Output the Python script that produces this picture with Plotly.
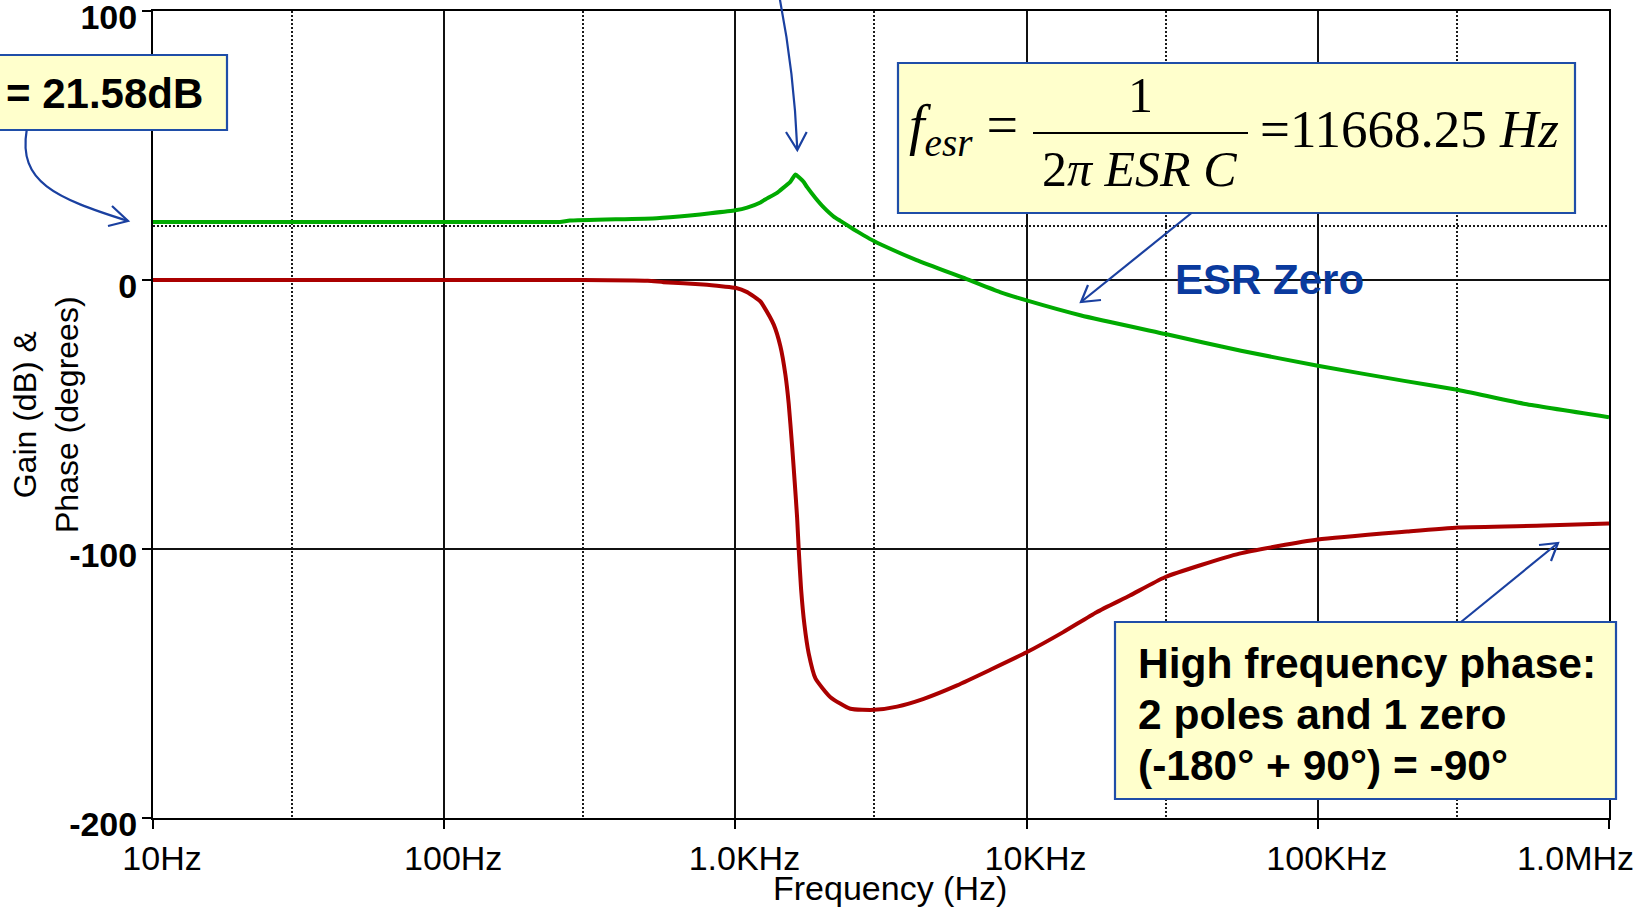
import plotly.graph_objects as go

# ---------------- data ----------------
gain_freq = [10, 30, 100, 250, 270, 537, 698, 821, 1000, 1097,
             1219, 1251, 1394, 1427, 1541, 1607, 1660, 1714, 1763, 1883,
             2010, 2181, 2294, 2551, 2758, 3000, 3147, 4189, 6200, 8100,
             10000, 15400, 30000, 54500, 100000, 198000, 301000, 516000, 1000000]
gain_db = [21.58, 21.58, 21.6, 21.6, 22.1, 23.0, 24.0, 24.8, 25.9, 26.9,
           28.8, 29.6, 32.5, 33.4, 36.4, 39.2, 38.0, 36.5, 34.5, 30.5,
           27.0, 23.5, 22.0, 18.8, 16.6, 14.4, 13.3, 7.4, 0.4, -4.5,
           -7.6, -13.2, -20.1, -26.3, -31.9, -37.5, -40.8, -46.1, -51.0]

phase_freq = [10, 100, 300, 500, 566, 776, 909, 1000, 1097, 1219,
              1251, 1354, 1427, 1485, 1524, 1566, 1598, 1629, 1650, 1681,
              1726, 1785, 1883, 2120, 2483, 3000, 3592, 4432, 5772, 7510,
              10000, 13360, 17390, 22630, 29850, 53800, 100000, 203000, 304000, 595000,
              1000000]
phase_deg = [0, 0, 0, -0.3, -0.8, -1.7, -2.4, -2.9, -4.5, -8.0,
             -9.8, -16.6, -24.6, -35.2, -45.9, -61.8, -75.0, -88.3, -100.2, -114.9,
             -128.2, -138.8, -148.1, -155.1, -159.4, -159.8, -158.6, -155.7, -150.7, -144.9,
             -138.4, -130.9, -123.5, -117.3, -110.5, -101.7, -96.5, -93.5, -92.0, -91.3,
             -90.5]

x_tickvals = [10, 100, 1000, 10000, 100000, 1000000]
x_ticktext = ["10Hz", "100Hz", "1.0KHz", "10KHz", "100KHz",
              "1.0MHz" + "\u00a0" * 9]
x_minor_vals = [30, 300, 3000, 30000, 300000]
y_tickvals = [-200, -100, 0, 100]
y_ticktext = ["-200", "-100", "0", "100"]
y_minor_vals = [20]

# ---------------- layout geometry ----------------
W, H = 1634, 908
ML, MR, MT, MB = 153, 25, 11, 90
PW = W - ML - MR
PH = H - MT - MB


def px(x):
    return (x - ML) / PW


def py(y):
    return (H - MB - y) / PH


SANS = "Liberation Sans, Arial, sans-serif"
SERIF = "Liberation Serif, Times New Roman, serif"
BLUE = "#1A40A0"
BOX_FILL = "#FFFFCC"
BOX_LINE = "#1F4EA8"

fig = go.Figure()
fig.add_trace(go.Scatter(x=gain_freq, y=gain_db, mode="lines",
                         line=dict(color="#00AA00", width=4, shape="spline", smoothing=0.4),
                         name="Gain"))
fig.add_trace(go.Scatter(x=phase_freq, y=phase_deg, mode="lines",
                         line=dict(color="#AA0000", width=4, shape="spline", smoothing=0.5),
                         name="Phase"))

axis_common = dict(showline=True, linecolor="black", linewidth=2, mirror=True,
                   showgrid=True, gridcolor="#111111", gridwidth=1.6,
                   ticks="outside", ticklen=9, tickwidth=1.6, tickcolor="black",
                   zeroline=False, ticklabeloverflow="allow", automargin=False)

fig.update_xaxes(type="log", range=[1, 6], tickmode="array",
                 tickvals=x_tickvals, ticktext=x_ticktext,
                 tickfont=dict(family=SANS, size=34, color="black"),
                 ticklabelshift=9, ticklabelstandoff=0,
                 minor=dict(tickvals=x_minor_vals, showgrid=True, gridcolor="#1a1a1a",
                            griddash="2px,2px", gridwidth=1.5, ticks=""),
                 **axis_common)
fig.update_yaxes(range=[-200, 100], tickmode="array",
                 tickvals=y_tickvals, ticktext=y_ticktext,
                 tickfont=dict(family=SANS, size=34, color="black", weight="bold"),
                 ticklabelshift=6, ticklabelstandoff=-2,
                 minor=dict(tickvals=y_minor_vals, showgrid=True, gridcolor="#1a1a1a",
                            griddash="2px,2px", gridwidth=1.5, ticks=""),
                 **axis_common)

shapes = []
annotations = []


def box(x0, y0, x1, y1):
    shapes.append(dict(type="rect", xref="paper", yref="paper",
                       x0=px(x0), x1=px(x1), y0=py(y1), y1=py(y0),
                       fillcolor=BOX_FILL, line=dict(color=BOX_LINE, width=2.2),
                       layer="above"))


def path(points_cmd, width=2.2):
    shapes.append(dict(type="path", xref="paper", yref="paper", path=points_cmd,
                       line=dict(color=BLUE, width=width), layer="above"))


def P(x, y):
    return f"{px(x):.5f},{py(y):.5f}"


def text(s, x, y, size, family=SANS, color="black", bold=False, xanchor="left",
         yanchor="middle", angle=0):
    annotations.append(dict(text=s, xref="paper", yref="paper", x=px(x), y=py(y),
                            xanchor=xanchor, yanchor=yanchor, showarrow=False,
                            textangle=angle,
                            font=dict(family=family, size=size, color=color,
                                      weight="bold" if bold else "normal")))


# boxes
box(-20, 55, 227, 130)
box(898, 63, 1575, 213)
box(1115, 622, 1616, 799)

# text in boxes
text("= 21.58dB", 4, 93, 42, bold=True)
text("<i>f</i><sub><i>esr</i></sub> =", 1020, 129, 56, family=SERIF, xanchor="right")
text("1", 1140, 95, 50, family=SERIF, xanchor="center")
text("2<i>\u03c0 ESR C</i>", 1139, 169, 50, family=SERIF, xanchor="center")
text("=11668.25 <i>Hz</i>", 1258, 129, 53, family=SERIF)
shapes.append(dict(type="line", xref="paper", yref="paper",
                   x0=px(1033), x1=px(1248), y0=py(133), y1=py(133),
                   line=dict(color="black", width=2), layer="above"))
text("High frequency phase:", 1136, 663, 42.5, bold=True)
text("2 poles and 1 zero", 1136, 714, 42.5, bold=True)
text("(-180\u00b0 + 90\u00b0) = -90\u00b0", 1136, 765, 42.5, bold=True)

# free labels
text("ESR Zero", 1173, 279, 42, color="#0A3A9E", bold=True)
text("Frequency (Hz)", 890, 888, 34, xanchor="center")
text("Gain (dB) &<br>Phase (degrees)", 46, 415, 32, xanchor="center", angle=-90)

# arrows
path(f"M{P(26.7,130)} C{P(18,182)} {P(55,198)} {P(128,221)}")
path(f"M{P(112,206)} L{P(128,221)} L{P(108,226)}")
path(f"M{P(779,-5)} Q{P(794,70)} {P(797.3,149)}")
path(f"M{P(786,132)} L{P(797.3,150)} L{P(806.7,132)}")
path(f"M{P(1191.5,213)} L{P(1081,302)}")
path(f"M{P(1088,285)} L{P(1081,302)} L{P(1101,300)}")
path(f"M{P(1461,622)} L{P(1558,543)}")
path(f"M{P(1539,545)} L{P(1558,543)} L{P(1551,561)}")

fig.update_layout(width=W, height=H, margin=dict(l=ML, r=MR, t=MT, b=MB, pad=0,
                                                 autoexpand=False),
                  paper_bgcolor="white", plot_bgcolor="white", showlegend=False,
                  shapes=shapes, annotations=annotations,
                  font=dict(family=SANS, color="black"))

fig.write_html("out.html", config={"displayModeBar": False},
               post_script="document.body.style.margin='0';document.body.style.overflow='hidden';")
